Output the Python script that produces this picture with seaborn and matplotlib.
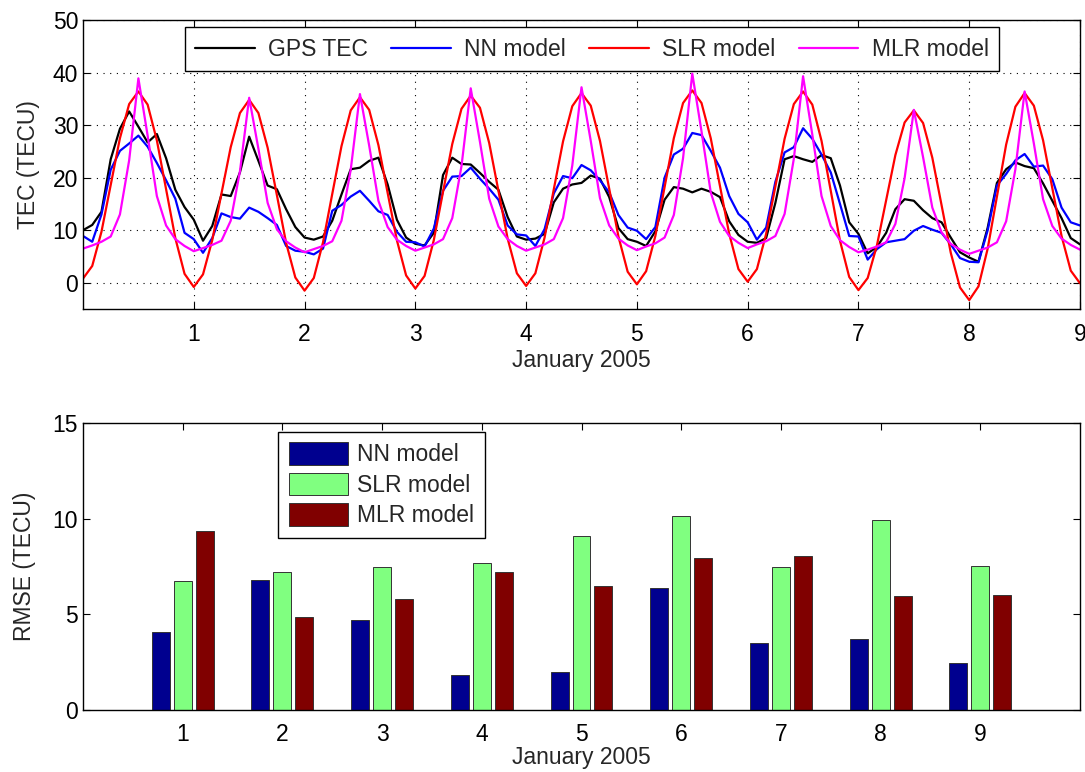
import numpy as np
import pandas as pd
import matplotlib
matplotlib.use('Agg')
import matplotlib.pyplot as plt
from matplotlib.lines import Line2D
from matplotlib.patches import Patch
import seaborn as sns

# 2-hourly samples, 1-9 January 2005
hours = np.arange(0, 217, 2)

gps_tec = [10.0, 11.0, 13.5, 23.5, 29.3, 32.6, 29.7, 26.7, 28.3, 23.7, 17.7, 14.4,
           12.0, 8.0, 10.8, 16.8, 16.5, 21.0, 27.8, 23.2, 18.5, 17.8, 14.0, 10.6,
           8.6, 8.2, 8.8, 11.8, 16.8, 21.6, 21.9, 23.2, 23.8, 18.7, 12.0, 8.6,
           7.4, 7.1, 9.5, 20.5, 23.8, 22.6, 22.5, 20.9, 19.2, 17.7, 12.5, 8.8,
           8.2, 8.4, 9.3, 15.3, 17.9, 18.7, 19.0, 20.4, 19.8, 16.3, 10.4, 8.3,
           7.8, 7.0, 9.8, 15.8, 18.2, 17.9, 17.2, 17.9, 17.3, 16.3, 11.7, 9.1,
           7.8, 7.6, 8.5, 15.2, 23.5, 24.1, 23.5, 23.0, 24.3, 23.7, 18.5, 11.5,
           9.3, 5.6, 6.8, 9.5, 14.0, 15.9, 15.6, 13.8, 12.3, 11.5, 8.6, 5.8,
           4.8, 4.0, 10.5, 19.0, 21.6, 22.9, 22.2, 21.8, 18.9, 15.6, 12.3, 8.5,
           7.3]
nn_tec = [8.9, 7.8, 13.0, 21.5, 25.1, 26.5, 28.0, 25.9, 22.8, 19.5, 16.0, 9.5,
          8.3, 5.7, 8.5, 13.2, 12.5, 12.2, 14.3, 13.5, 12.3, 11.0, 7.0, 6.1,
          5.9, 5.4, 6.5, 13.7, 14.8, 16.4, 17.5, 15.6, 13.6, 12.9, 9.7, 7.8,
          7.7, 6.9, 10.3, 17.5, 20.2, 20.3, 21.9, 19.8, 17.9, 15.8, 10.9, 9.2,
          9.0, 7.0, 10.2, 17.0, 20.3, 19.9, 22.4, 21.4, 19.5, 17.2, 12.9, 10.5,
          9.9, 8.3, 10.6, 20.0, 24.4, 25.5, 28.5, 28.1, 25.1, 21.9, 16.5, 13.1,
          11.5, 8.2, 10.5, 19.2, 24.8, 25.8, 29.4, 27.4, 24.4, 21.0, 15.0, 8.9,
          8.8, 4.4, 6.4, 7.7, 8.0, 8.3, 9.9, 10.8, 10.1, 9.5, 7.3, 4.7,
          4.0, 3.9, 10.0, 18.5, 20.7, 23.3, 24.5, 22.1, 22.3, 19.7, 14.3, 11.5,
          10.9]
slr_tec = [0.8, 3.2, 9.7, 18.6, 27.5, 34.0, 36.4, 33.9, 27.1, 17.8, 8.5, 1.7,
           -0.8, 1.6, 8.1, 17.0, 25.8, 32.3, 34.8, 32.3, 25.7, 16.7, 7.6, 1.0,
           -1.5, 0.9, 7.7, 16.9, 26.0, 32.8, 35.3, 32.9, 26.2, 17.1, 8.1, 1.4,
           -1.1, 1.3, 8.1, 17.3, 26.4, 33.1, 35.6, 33.3, 26.6, 17.5, 8.4, 1.8,
           -0.6, 1.8, 8.6, 17.8, 26.9, 33.6, 36.1, 33.7, 27.0, 17.9, 8.8, 2.1,
           -0.3, 2.2, 8.9, 18.2, 27.5, 34.2, 36.6, 34.2, 27.5, 18.4, 9.3, 2.6,
           0.2, 2.6, 9.3, 18.3, 27.4, 34.0, 36.4, 33.9, 27.0, 17.5, 8.0, 1.1,
           -1.4, 0.9, 7.1, 15.7, 24.3, 30.5, 32.8, 30.4, 23.8, 14.8, 5.7, -0.9,
           -3.3, -0.7, 6.5, 16.4, 26.3, 33.5, 36.1, 33.7, 27.1, 18.0, 8.9, 2.3,
           -0.1]
mlr_tec = [6.5, 7.1, 7.8, 8.8, 13.0, 23.3, 38.9, 28.0, 16.5, 10.9, 8.3, 7.0,
           6.0, 6.6, 7.2, 8.0, 11.8, 21.2, 35.2, 25.5, 15.2, 10.2, 7.9, 6.7,
           5.8, 6.4, 7.0, 7.9, 11.8, 21.5, 35.9, 26.1, 15.6, 10.6, 8.2, 7.0,
           6.1, 6.7, 7.3, 8.3, 12.3, 22.2, 37.0, 26.8, 16.0, 10.7, 8.3, 7.0,
           6.1, 6.7, 7.3, 8.3, 12.3, 22.3, 37.2, 27.0, 16.1, 10.9, 8.4, 7.1,
           6.2, 6.9, 7.5, 8.6, 12.9, 23.7, 39.8, 28.8, 17.2, 11.6, 8.9, 7.6,
           6.6, 7.3, 7.9, 8.9, 13.1, 23.6, 39.3, 28.2, 16.5, 10.8, 8.1, 6.8,
           5.8, 6.3, 6.9, 7.7, 11.2, 19.9, 32.9, 23.9, 14.3, 9.6, 7.4, 6.3,
           5.5, 6.1, 6.7, 7.7, 11.7, 21.6, 36.4, 26.5, 15.9, 10.8, 8.4, 7.2,
           6.3]

series_names = ['GPS TEC', 'NN model', 'SLR model', 'MLR model']
line_colors = ['#000000', '#0000ff', '#ff0000', '#ff00ff']

# daily RMSE
days = [1, 2, 3, 4, 5, 6, 7, 8, 9]
rmse_nn = [4.1, 6.8, 4.7, 1.85, 2.0, 6.35, 3.5, 3.7, 2.45]
rmse_slr = [6.75, 7.2, 7.45, 7.7, 9.1, 10.15, 7.45, 9.95, 7.5]
rmse_mlr = [9.35, 4.85, 5.8, 7.2, 6.5, 7.95, 8.05, 5.95, 6.0]
model_names = ['NN model', 'SLR model', 'MLR model']
bar_colors = ['#00008f', '#80ff80', '#800000']

sns.set_style('ticks')
plt.rcParams['font.family'] = ['Liberation Sans', 'DejaVu Sans']
plt.rcParams.update({
    'xtick.direction': 'in', 'ytick.direction': 'in',
    'xtick.top': True, 'ytick.right': True,
    'xtick.major.size': 5, 'ytick.major.size': 5,
    'xtick.color': 'k', 'ytick.color': 'k',
    'axes.edgecolor': 'k', 'axes.linewidth': 1.0,
})
fs = 16.5

df = pd.DataFrame({
    'day': np.tile(hours / 24, 4),
    'tec': gps_tec + nn_tec + slr_tec + mlr_tec,
    'series': np.repeat(series_names, len(hours)),
})
df_bar = pd.DataFrame({
    'day': days * 3,
    'rmse': rmse_nn + rmse_slr + rmse_mlr,
    'model': np.repeat(model_names, len(days)),
})

fig = plt.figure(figsize=(10.85, 7.72), dpi=100)
ax1 = fig.add_axes([0.0765, 0.5997, 0.9189, 0.3744])
ax2 = fig.add_axes([0.0765, 0.0803, 0.9189, 0.3718])

# top: TEC time series
sns.lineplot(data=df, x='day', y='tec', hue='series', hue_order=series_names,
             palette=dict(zip(series_names, line_colors)), estimator=None,
             linewidth=1.6, ax=ax1, legend=False)
ax1.set_xlim(0, 9)
ax1.set_ylim(-5, 50)
ax1.set_xticks(range(1, 10))
ax1.set_yticks(range(0, 51, 10))
ax1.grid(True, color='k', linestyle=(0, (1, 5)), linewidth=0.8)
ax1.tick_params(labelsize=fs)
ax1.tick_params(axis='x', pad=10)
ax1.set_xlabel('January 2005', fontsize=fs, labelpad=2)
ax1.set_ylabel('TEC (TECU)', fontsize=fs, labelpad=9)
handles = [Line2D([], [], color=c, linewidth=1.6) for c in line_colors]
leg = ax1.legend(handles, series_names, ncol=4, loc='upper left',
                 bbox_to_anchor=(0.102, 0.975), fontsize=fs, frameon=True,
                 fancybox=False, framealpha=1, edgecolor='k', borderaxespad=0,
                 handlelength=2.6, handletextpad=0.6, columnspacing=1.0,
                 borderpad=0.45)
leg.get_frame().set_linewidth(1.0)

# bottom: daily RMSE bars
sns.barplot(data=df_bar, x='day', y='rmse', hue='model', hue_order=model_names,
            palette=dict(zip(model_names, bar_colors)), native_scale=True,
            width=0.66, gap=0.18, saturation=1, edgecolor='#333333',
            linewidth=0.7, errorbar=None, ax=ax2)
ax2.set_xlim(0, 10)
ax2.set_ylim(0, 15)
ax2.set_xticks(days)
ax2.set_xticklabels([str(d) for d in days])
ax2.set_yticks([0, 5, 10, 15])
ax2.tick_params(labelsize=fs)
ax2.tick_params(axis='x', pad=9)
ax2.set_xlabel('January 2005', fontsize=fs, labelpad=0)
ax2.set_ylabel('RMSE (TECU)', fontsize=fs, labelpad=12)
patches = [Patch(facecolor=c, edgecolor='#333333', linewidth=0.7) for c in bar_colors]
leg2 = ax2.legend(patches, model_names, loc='upper left',
                  bbox_to_anchor=(0.196, 0.969), fontsize=fs, frameon=True,
                  fancybox=False, framealpha=1, edgecolor='k', borderaxespad=0,
                  handlelength=2.6, handleheight=1.15, handletextpad=0.4,
                  labelspacing=0.28, borderpad=0.45)
leg2.get_frame().set_linewidth(1.0)

for ax in (ax1, ax2):
    for sp in ax.spines.values():
        sp.set_visible(True)
        sp.set_color('k')

fig.savefig('out.png', dpi=100)
